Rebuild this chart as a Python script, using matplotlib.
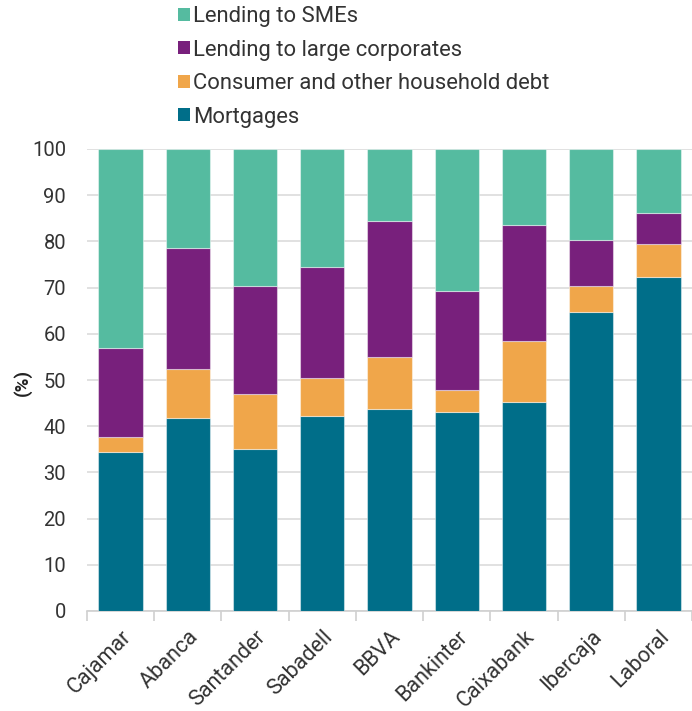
import matplotlib
matplotlib.use("Agg")
import matplotlib.pyplot as plt
import matplotlib.transforms as mtransforms
import numpy as np
from matplotlib.patches import Patch

banks = ["Cajamar", "Abanca", "Santander", "Sabadell", "BBVA", "Bankinter", "Caixabank", "Ibercaja", "Laboral"]
mortgages = [34.4, 41.8, 35.1, 42.1, 43.8, 43.1, 45.2, 64.7, 72.4]
consumer = [3.3, 10.6, 11.8, 8.4, 11.2, 4.7, 13.2, 5.6, 7.1]
large_corp = [19.3, 26.2, 23.5, 24.0, 29.4, 21.5, 25.2, 10.1, 6.6]
smes = [43.0, 21.4, 29.6, 25.5, 15.6, 30.7, 16.4, 19.6, 13.9]

series = [
    ("Mortgages", mortgages, "#006E89"),
    ("Consumer and other household debt", consumer, "#F0A64A"),
    ("Lending to large corporates", large_corp, "#78207C"),
    ("Lending to SMEs", smes, "#55BBA0"),
]

plt.rcParams['font.family'] = ['Roboto', 'DejaVu Sans']

fig = plt.figure(figsize=(6.92, 7.11), dpi=100)
ax = fig.add_axes([87/692, (711-611)/711, (692-87)/692, (611-149)/711])

x = np.arange(len(banks))
bottom = np.zeros(len(banks))
for name, vals, col in series:
    ax.bar(x, vals, width=0.66, bottom=bottom, color=col, edgecolor=(1, 1, 1, 0.45), linewidth=0.8, zorder=3)
    bottom += np.array(vals)

ax.set_ylim(0, 100)
ax.set_xlim(-0.5, 8.42)
ax.set_yticks(np.arange(0, 101, 10))
ax.yaxis.grid(True, color="#dcdcdc", linewidth=1.2, zorder=0)
ax.set_axisbelow(True)
for s in ["top", "right", "left"]:
    ax.spines[s].set_visible(False)
ax.spines["bottom"].set_color("#d0d0d0")
ax.spines["bottom"].set_linewidth(1.2)

txt = "#333333"
ax.set_xticks(x)
ax.set_xticklabels(banks, rotation=45, ha="right", rotation_mode="anchor", fontsize=15.5, color=txt)
offset = mtransforms.ScaledTranslation(-3/100, 0, fig.dpi_scale_trans)
for lbl in ax.get_xticklabels():
    lbl.set_transform(lbl.get_transform() + offset)
ax.set_xticks(np.arange(-0.5, 8.6, 1), minor=True)
ax.tick_params(axis="x", which="major", length=0, pad=11)
ax.tick_params(axis="x", which="minor", length=7, color="#d0d0d0", width=1.2)
ax.tick_params(axis="y", length=0, labelsize=14.5, labelcolor=txt, pad=15)

fig.text(22/692, 1 - 383/711, "(%)", rotation=90, fontsize=13.5, fontweight="bold", ha="center", va="center", color="#222222")

handles = [Patch(facecolor=c, edgecolor="none") for _, _, c in reversed(series)]
labels = [n for n, _, _ in reversed(series)]
leg = fig.legend(handles, labels, loc="upper left", bbox_to_anchor=(178/692, 1.0 - 6/711),
                 frameon=False, fontsize=15.8, handlelength=0.55, handleheight=0.55,
                 handletextpad=0.15, labelspacing=0.57, borderpad=0, borderaxespad=0,
                 labelcolor=txt)

fig.savefig("out.png", dpi=100)
